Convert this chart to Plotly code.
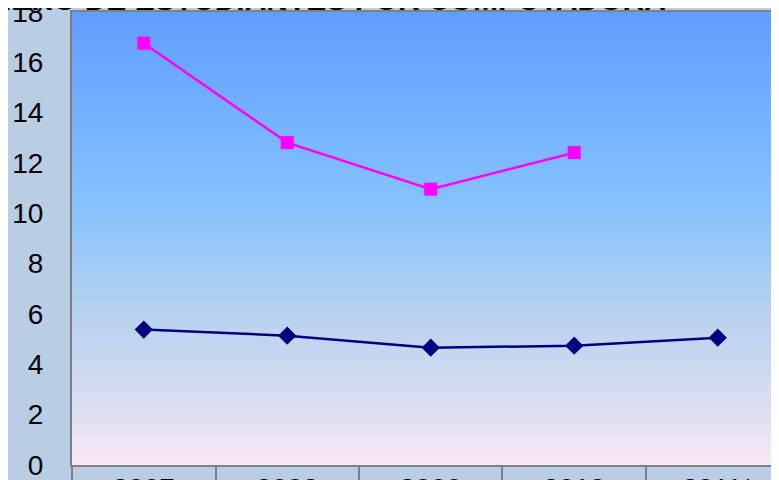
import plotly.graph_objects as go

years = ['2007', '2008', '2009', '2010', '2011*']
serie_rosa = [16.76, 12.81, 10.96, 12.41, None]
serie_azul = [5.38, 5.14, 4.66, 4.74, 5.06]

titulo = 'NÚMERO DE ESTUDIANTES POR COMPUTADORA'

# degradado del fondo (de arriba hacia abajo)
grad_stops = [(0.0, (95, 158, 255)), (0.42, (133, 193, 255)), (0.65, (180, 209, 240)),
              (0.85, (215, 220, 240)), (1.0, (250, 232, 248))]


def color_at(t):
    for (t0, c0), (t1, c1) in zip(grad_stops[:-1], grad_stops[1:]):
        if t0 <= t <= t1:
            f = (t - t0) / (t1 - t0)
            return 'rgb(%d,%d,%d)' % tuple(round(a + (b - a) * f) for a, b in zip(c0, c1))
    return 'rgb(%d,%d,%d)' % grad_stops[-1][1]


fig = go.Figure()

fig.add_trace(go.Scatter(
    x=years, y=serie_rosa, mode='lines+markers', name='Serie 1',
    line=dict(color='#ff00ff', width=2.5),
    marker=dict(symbol='square', size=13, color='#ff00ff')
))
fig.add_trace(go.Scatter(
    x=years, y=serie_azul, mode='lines+markers', name='Serie 2',
    line=dict(color='#000080', width=2.5),
    marker=dict(symbol='diamond', size=14, color='#000080')
))

n = 90
shapes = []
for i in range(n):
    t = (i + 0.5) / n
    shapes.append(dict(type='rect', xref='x domain', yref='y domain',
                       x0=0, x1=1, y0=1 - i / n, y1=1 - (i + 1) / n - 0.002,
                       fillcolor=color_at(t), line=dict(width=0), layer='below'))

# la pagina tiene 8px de margen, se compensa aqui
fig.update_layout(
    width=771, height=472,
    margin=dict(l=64, r=0, t=4, b=15),
    paper_bgcolor='#b9cde4',
    plot_bgcolor='rgba(0,0,0,0)',
    showlegend=False,
    shapes=shapes,
    font=dict(family='Arial', color='black'),
    xaxis=dict(
        range=[-0.5, 4.427], type='category', automargin=False,
        showgrid=False, showline=True, linecolor='#808080', linewidth=2, mirror=True,
        ticks='outside', tickson='boundaries', ticklen=20, tickwidth=2, tickcolor='#808080',
        tickfont=dict(size=28), ticklabelstandoff=-3, ticklabeloverflow='allow'
    ),
    yaxis=dict(
        range=[0, 18], dtick=2, showgrid=False, zeroline=False, automargin=False,
        showline=True, linecolor='#808080', linewidth=2, mirror=True,
        ticks='', tickfont=dict(size=28), ticklabelstandoff=21, ticklabeloverflow='allow'
    ),
    annotations=[dict(
        text='<b>' + titulo + '</b>', xref='paper', yref='paper',
        x=(660 - 64) / 707, y=1, xanchor='right', yanchor='bottom', yshift=-6,
        showarrow=False, font=dict(size=30, color='black')
    )]
)

fig.write_html("out.html")
